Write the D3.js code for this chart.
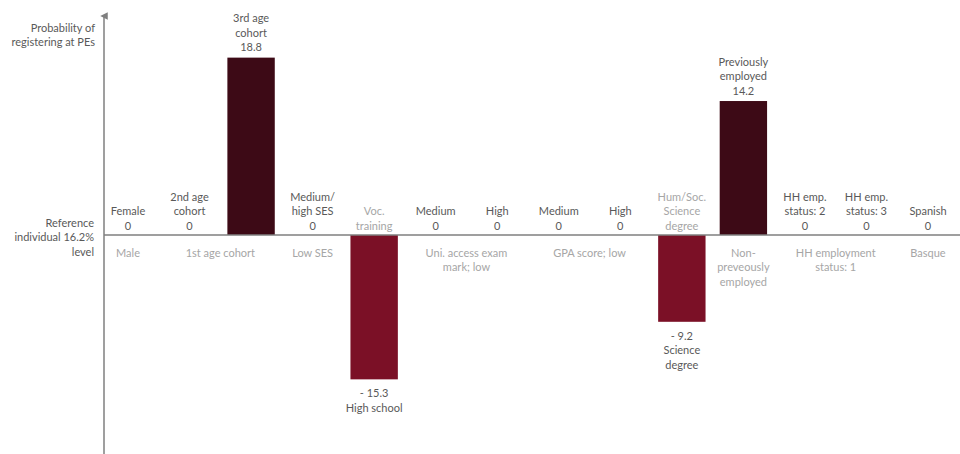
<!DOCTYPE html>
<html>
<head>
<meta charset="utf-8">
<script src="https://cdn.jsdelivr.net/npm/d3@7/dist/d3.min.js"></script>
<style>
  html, body { margin: 0; padding: 0; background: #ffffff; }
  svg { display: block; }
  text { font-family: Lato, "Open Sans", sans-serif; font-size: 11px; }
</style>
</head>
<body>
<svg id="chart" width="960" height="454"></svg>
<script>
// ---------- data ----------
const categories = ["Female", "2nd age\ncohort", "3rd age\ncohort", "Medium/\nhigh SES", "High school",
  "Medium", "High", "Medium", "High", "Science\ndegree", "Previously\nemployed",
  "HH emp.\nstatus: 2", "HH emp.\nstatus: 3", "Spanish"];
const values = [0, 0, 18.8, 0, -15.3, 0, 0, 0, 0, -9.2, 14.2, 0, 0, 0];
const groupOf = [0, 1, 1, 2, 3, 4, 4, 5, 5, 6, 7, 8, 8, 9];
const referenceLabels = ["Male", "1st age cohort", "Low SES", "Voc.\ntraining", "Uni. access exam\nmark; low",
  "GPA score; low", "Hum/Soc.\nScience\ndegree", "Non-\npreveously\nemployed", "HH employment\nstatus: 1", "Basque"];
const yAxisTitle = "Probability of\nregistering at PEs";
const referenceTitle = "Reference\nindividual 16.2%\nlevel";

// ---------- setup ----------
const W = 960, H = 454;
const svg = d3.select("#chart");
const axisX = 104;
const lineH = 14.5;
const darkText = "#595959", lightText = "#a6a6a6", axisColor = "#7f7f7f";

const idx = d3.range(categories.length);
const x = d3.scalePoint().domain(idx).range([128, 928]);
const y = d3.scaleLinear().domain([-23, 23]).range([452, 18]);
const bw = x.step() * 0.77;
const y0 = y(0);

const fmt = v => v === 0 ? "0" : (v < 0 ? "- " + d3.format(".1f")(-v) : d3.format(".1f")(v));

// multi-line text helper; anchorLine: y of the center of first line
function multiText(g, lines, cx, firstY, color, anchor) {
  const t = g.append("text")
    .attr("text-anchor", anchor || "middle")
    .attr("fill", color);
  lines.forEach((ln, i) => {
    t.append("tspan").attr("x", cx).attr("y", firstY + i * lineH).attr("dy", "0.35em").text(ln);
  });
  return t;
}

// ---------- bars ----------
const barData = idx.filter(i => values[i] !== 0);
svg.append("g").selectAll("rect").data(barData).join("rect")
  .attr("x", i => x(i) - bw / 2)
  .attr("width", bw)
  .attr("y", i => Math.min(y(values[i]), y0))
  .attr("height", i => Math.abs(y(values[i]) - y0))
  .attr("fill", i => values[i] > 0 ? "#3d0a16" : "#7b1026");

// ---------- axes ----------
const defs = svg.append("defs");
defs.append("marker").attr("id", "arrow").attr("viewBox", "0 0 10 10")
  .attr("refX", 5).attr("refY", 5).attr("markerWidth", 5).attr("markerHeight", 5)
  .attr("orient", "auto-start-reverse")
  .append("path").attr("d", "M0,10 L5,0 L10,10 Z").attr("fill", axisColor);

svg.append("line").attr("x1", axisX).attr("x2", axisX).attr("y1", H).attr("y2", 16)
  .attr("stroke", axisColor).attr("stroke-width", 1.5).attr("marker-end", "url(#arrow)");
svg.append("line").attr("x1", axisX).attr("x2", W).attr("y1", y0).attr("y2", y0)
  .attr("stroke", axisColor).attr("stroke-width", 1.5);

const labels = svg.append("g");

// axis titles
multiText(labels, yAxisTitle.split("\n"), 95, 28, darkText, "end");
multiText(labels, referenceTitle.split("\n"), 94, y0 - 12, darkText, "end");

// ---------- category labels ----------
idx.forEach(i => {
  const v = values[i];
  const lines = categories[i].split("\n");
  const cx = x(i);
  if (v > 0) {
    const all = lines.concat([fmt(v)]);
    const last = y(v) - 10;
    multiText(labels, all, cx, last - (all.length - 1) * lineH, darkText);
  } else if (v < 0) {
    const all = [fmt(v)].concat(lines);
    multiText(labels, all, cx, y(v) + 14, darkText);
  } else {
    const all = lines.concat(["0"]);
    const last = y0 - 9;
    multiText(labels, all, cx, last - (all.length - 1) * lineH, darkText);
  }
});

// ---------- reference labels ----------
referenceLabels.forEach((lab, g) => {
  const members = idx.filter(i => groupOf[i] === g);
  const cx = d3.mean(members, i => x(i));
  const lines = lab.split("\n");
  const negative = members.some(i => values[i] < 0);
  if (negative) {
    const last = y0 - 9;
    multiText(labels, lines, cx, last - (lines.length - 1) * lineH, lightText);
  } else {
    multiText(labels, lines, cx, y0 + 18, lightText);
  }
});
</script>
</body>
</html>
